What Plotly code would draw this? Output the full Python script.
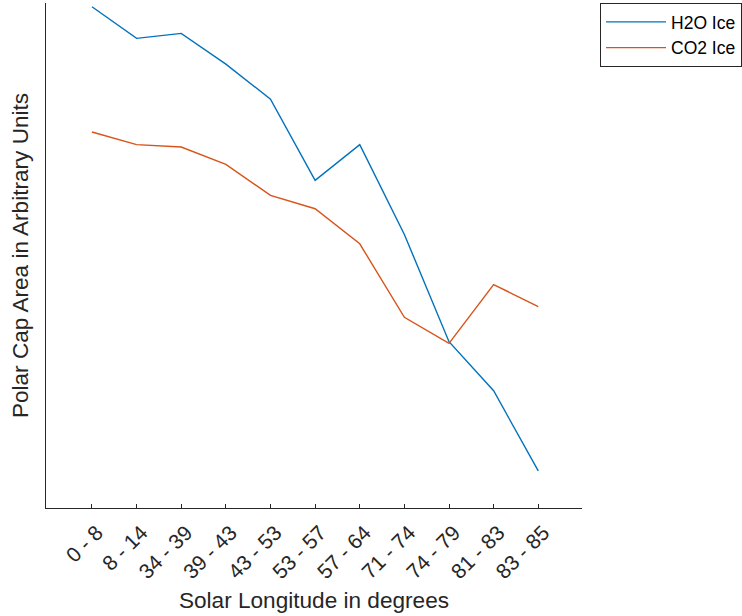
import plotly.graph_objects as go

categories = ["0 - 8", "8 - 14", "34 - 39", "39 - 43", "43 - 53", "53 - 57",
              "57 - 64", "71 - 74", "74 - 79", "81 - 83", "83 - 85"]
h2o_ice = [500.3, 468.7, 473.7, 443.0, 408.0, 327.0, 362.7, 273.0, 166.0, 117.0, 37.0]
co2_ice = [375.3, 362.7, 360.3, 343.0, 312.0, 298.7, 263.7, 190.3, 164.3, 223.0, 201.0]

FONT = "Liberation Sans, Arial, sans-serif"
AXC = "#262626"

fig = go.Figure()
fig.add_trace(go.Scatter(x=categories, y=h2o_ice, mode="lines", name="H2O Ice",
                         line=dict(color="#0072BD", width=1.4)))
fig.add_trace(go.Scatter(x=categories, y=co2_ice, mode="lines", name="CO2 Ice",
                         line=dict(color="#D95319", width=1.4)))

fig.update_layout(
    width=742, height=616,
    margin=dict(l=46, r=160, t=3, b=108, autoexpand=False),
    paper_bgcolor="white", plot_bgcolor="white",
    font=dict(family=FONT, color=AXC),
    showlegend=True,
    legend=dict(x=1.0336, y=1.0, xanchor="left", yanchor="top",
                bordercolor="#262626", borderwidth=1, bgcolor="white",
                font=dict(size=17.5, family=FONT, color="#000000"),
                itemwidth=60, tracegroupgap=0),
    xaxis=dict(type="category", range=[-1.03, 10.98], showgrid=False, zeroline=False,
               showline=True, linecolor=AXC, linewidth=1,
               ticks="inside", ticklen=4, tickcolor=AXC, tickwidth=1,
               tickangle=-45, tickfont=dict(size=21, family=FONT, color=AXC),
               ticklabelshift=5, ticklabelstandoff=3,
               title=dict(text="Solar Longitude in degrees",
                          font=dict(size=22.6, family=FONT, color=AXC), standoff=9)),
    yaxis=dict(range=[0, 504], showgrid=False, zeroline=False, showticklabels=False,
               showline=True, linecolor=AXC, linewidth=1, ticks="",
               title=dict(text="Polar Cap Area in Arbitrary Units",
                          font=dict(size=22.6, family=FONT, color=AXC), standoff=10)),
)

fig.write_html("out.html", config={"displayModeBar": False},
               post_script="document.body.style.margin='0';")
